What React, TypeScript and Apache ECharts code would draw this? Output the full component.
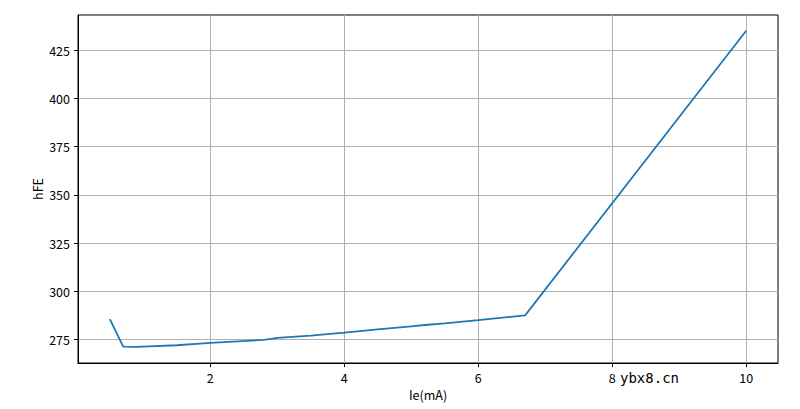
import React, { useEffect, useRef } from "react";
import * as echarts from "echarts";

const ieValues = [0.5, 0.7, 0.9, 1.5, 2.0, 2.8, 3.0, 3.5, 4.0, 4.5, 5.0, 5.2, 5.5, 6.0, 6.7, 10.0];
const hfeValues = [285.5, 271.3, 271.2, 272.0, 273.2, 274.8, 275.8, 277.0, 278.5, 280.2, 281.8, 282.5, 283.3, 285.0, 287.5, 435.0];
const xTicks = [2, 4, 6, 8, 10];
const yTicks = [275, 300, 325, 350, 375, 400, 425];

const FONT = "'Noto Sans CJK SC', 'DejaVu Sans', sans-serif";

export default function App() {
  const ref = useRef<HTMLDivElement>(null);
  useEffect(() => {
    if (!ref.current) return;
    const chart = echarts.init(ref.current, null, { renderer: "svg" });
    const data = ieValues.map((x, i) => [x, hfeValues[i]]);
    chart.setOption({
      animation: false,
      backgroundColor: "#ffffff",
      grid: {
        left: 78,
        right: 22,
        top: 15,
        bottom: 46,
        show: true,
        borderColor: "#000",
        borderWidth: 1,
        backgroundColor: "transparent",
      },
      xAxis: {
        type: "value",
        min: 0.025,
        max: 10.475,
        name: "Ie(mA)",
        nameLocation: "middle",
        nameGap: 25,
        nameTextStyle: { color: "#000", fontSize: 12.5, fontFamily: FONT },
        axisLine: { show: true, onZero: false, lineStyle: { color: "#000", width: 1 } },
        axisTick: { show: true, length: 4, inside: false, customValues: xTicks, lineStyle: { color: "#000" } },
        axisLabel: { customValues: xTicks, margin: 8, color: "#000", fontSize: 12.5, fontFamily: FONT },
        splitLine: { show: true, lineStyle: { color: "#b0b0b0", width: 1 } },
      },
      yAxis: {
        type: "value",
        min: 262.8,
        max: 443.2,
        name: "hFE",
        nameLocation: "middle",
        nameGap: 34,
        nameMoveOverlap: false,
        nameRotate: 90,
        nameTextStyle: { color: "#000", fontSize: 12.5, fontFamily: FONT },
        axisLine: { show: true, onZero: false, lineStyle: { color: "#000", width: 1 } },
        axisTick: { show: true, length: 4, inside: false, customValues: yTicks, lineStyle: { color: "#000" } },
        axisLabel: { customValues: yTicks, margin: 8, color: "#000", fontSize: 12.5, fontFamily: FONT },
        splitLine: { show: true, lineStyle: { color: "#b0b0b0", width: 1 } },
      },
      graphic: [
        {
          type: "text",
          left: 620,
          top: 371,
          style: { text: "ybx8.cn", fill: "#000", fontSize: 14, fontFamily: "'DejaVu Sans Mono', monospace" },
        },
      ],
      series: [
        {
          type: "line",
          data,
          showSymbol: false,
          symbol: "none",
          lineStyle: { color: "#1f77b4", width: 1.8 },
          clip: true,
        },
      ],
    });
    return () => chart.dispose();
  }, []);
  return <div ref={ref} style={{ width: 800, height: 409, position: "absolute", left: 0, top: 0 }} />;
}
